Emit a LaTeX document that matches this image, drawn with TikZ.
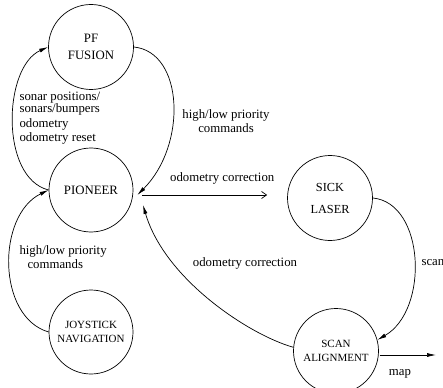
\documentclass[tikz,border=0pt]{standalone}
\usepackage{fontspec}
\setmainfont{Liberation Serif}
\usetikzlibrary{arrows.meta}

\tikzset{
    state/.style={circle, draw, line width=0.7pt, minimum size=85pt, inner sep=0pt, align=center},
    arr/.style={line width=0.7pt, -{Latex[length=9pt,width=4pt]}},
    openarr/.style={line width=0.7pt, -{Straight Barb[length=5pt,width=7pt]}},
    lbl/.style={font=\fontsize{12.8}{14}\selectfont}
}

\begin{document}
\begin{tikzpicture}[x=1pt, y=-1pt]
    \useasboundingbox (0,0) rectangle (443,387);

    % States
    \node[state, font=\fontsize{12.8}{17}\selectfont] (pf) at (91,47) {PF\\FUSION};
    \node[state, font=\fontsize{12.8}{15}\selectfont, minimum size=84pt] (pioneer) at (91,190) {PIONEER};
    \node[state, font=\fontsize{11}{14}\selectfont, minimum size=84pt] (joystick) at (91,332) {JOYSTICK\\NAVIGATION};
    \node[state, font=\fontsize{12.3}{22}\selectfont] (sick) at (330,198) {SICK\\LASER};
    \node[state, font=\fontsize{11}{14}\selectfont] (scan) at (336,351) {SCAN\\ALIGNMENT};

    % Pioneer and PF fusion
    \draw[arr] (pioneer.west) .. controls +(-49,-12) and +(-45,20) .. (pf.west);
    \draw[arr] (pf.east) .. controls +(50,5) and +(50,-50) .. ([shift={(4,5)}]pioneer.east);
    \node[lbl, anchor=west, align=left] (sonar) at (16,118)
        {sonar positions/\\[-1.5pt]sonars/bumpers\\[0.5pt]odometry\\odometry reset};
    \node[lbl, align=center] (pfcmd) at (226,121) {high/low priority\\commands};

    % Joystick
    \draw[arr] (joystick.west) .. controls +(-52,-15) and +(-52,25) .. (pioneer.west);
    \node[lbl, anchor=west, align=left] (joycmd) at (16,257)
        {high/low priority\\\hspace*{8pt}commands};

    % Laser and scan alignment
    \draw[openarr] ([shift={(9,5)}]pioneer.east) -- ([shift={(-20,-3)}]sick.west)
        node[lbl, pos=0.64, above=7pt] (odo1) {odometry correction};
    \draw[arr] (sick.east) .. controls +(52,5) and +(52,-30) .. (scan.15);
    \node[lbl, anchor=west] (scanlbl) at (418,263) {scan};
    \draw[arr] (scan.175) .. controls +(-43,-12) and +(22,75) .. ([shift={(52,15)}]pioneer.center);
    \node[lbl] (odo2) at (245,263) {odometry correction};

    % Map output
    \coordinate (mapend) at (436,355);
    \draw[arr] ([shift={(1,4)}]scan.east) -- (mapend);
    \node[lbl] (maplbl) at (400,374) {map};
\end{tikzpicture}
\end{document}
